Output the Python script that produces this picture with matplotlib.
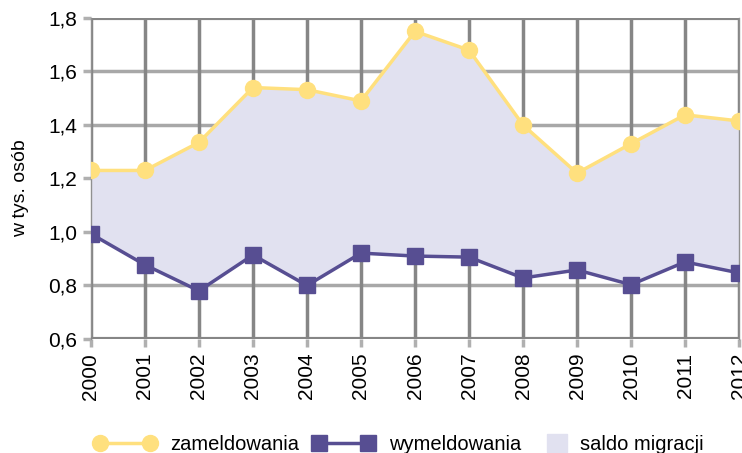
import matplotlib.pyplot as plt
import matplotlib.patches as mpatches
from matplotlib.lines import Line2D

plt.rcParams['font.family'] = ['Liberation Sans', 'DejaVu Sans']

lata = list(range(2000, 2013))
zameldowania = [1.23, 1.23, 1.335, 1.54, 1.532, 1.49, 1.75, 1.68, 1.40, 1.22, 1.33, 1.438, 1.415]
wymeldowania = [0.993, 0.877, 0.78, 0.914, 0.80, 0.921, 0.91, 0.906, 0.828, 0.858, 0.803, 0.888, 0.847]
y_ticks = [0.6, 0.8, 1.0, 1.2, 1.4, 1.6, 1.8]

zolty = '#FFE07E'
fiolet = '#574E92'
tlo = '#E1E1F0'

fig = plt.figure(figsize=(7.42, 4.53), dpi=100)
ax = fig.add_axes([0.1226, 0.2517, 0.8734, 0.7086])

# siatka pod wypelnieniem
for y in y_ticks[1:-1]:
    ax.axhline(y, color='#A8A8A8', lw=2.5, zorder=0)
for x in lata:
    ax.axvline(x, color='#868686', lw=2.5, zorder=0)
ax.axhline(1.8, color='#868686', lw=3, zorder=0)
ax.axhline(0.6, color='#868686', lw=3, zorder=3)

ax.fill_between(lata, wymeldowania, zameldowania, color=tlo, zorder=1, lw=0)
ax.plot(lata, zameldowania, color=zolty, lw=2.5, marker='o', ms=11.5, zorder=4)
ax.plot(lata, wymeldowania, color=fiolet, lw=2.5, marker='s', ms=11, zorder=4)

ax.set_xlim(2000, 2012)
ax.set_ylim(0.6, 1.8)
ax.set_xticks(lata)
ax.set_xticklabels([str(r) for r in lata], rotation=90, fontsize=15)
ax.set_yticks(y_ticks)
ax.set_yticklabels([f'{v:.1f}'.replace('.', ',') for v in y_ticks], fontsize=15)
ax.tick_params(axis='both', length=6, width=2.5, color='#B0B0B0', pad=4)
ax.set_ylabel('w tys. osób', fontsize=14)
ax.yaxis.set_label_coords(-0.095, 0.47)

for s in ['top', 'bottom']:
    ax.spines[s].set_visible(False)
for s in ['left', 'right']:
    ax.spines[s].set_color('#909090')
    ax.spines[s].set_linewidth(1)
    ax.spines[s].set_zorder(2)

h1 = Line2D([], [], color=zolty, lw=2.5, marker='o', ms=11.5)
h2 = Line2D([], [], color=fiolet, lw=2.5, marker='s', ms=11)
h3 = mpatches.Patch(color=tlo)
leg1 = fig.legend([h1, h2], ['zameldowania', 'wymeldowania'],
                  loc='lower left', bbox_to_anchor=(0.1267, -0.003), ncol=2, frameon=False,
                  numpoints=2, handlelength=3.06, fontsize=14.5, columnspacing=0.7,
                  handletextpad=0.7, borderpad=0, borderaxespad=0)
leg2 = fig.legend([h3], ['saldo migracji'],
                  loc='lower left', bbox_to_anchor=(0.737, -0.003), frameon=False,
                  handlelength=1.0, handleheight=1.0, fontsize=14.5,
                  handletextpad=0.63, borderpad=0, borderaxespad=0)

fig.savefig('out.png', dpi=100)
